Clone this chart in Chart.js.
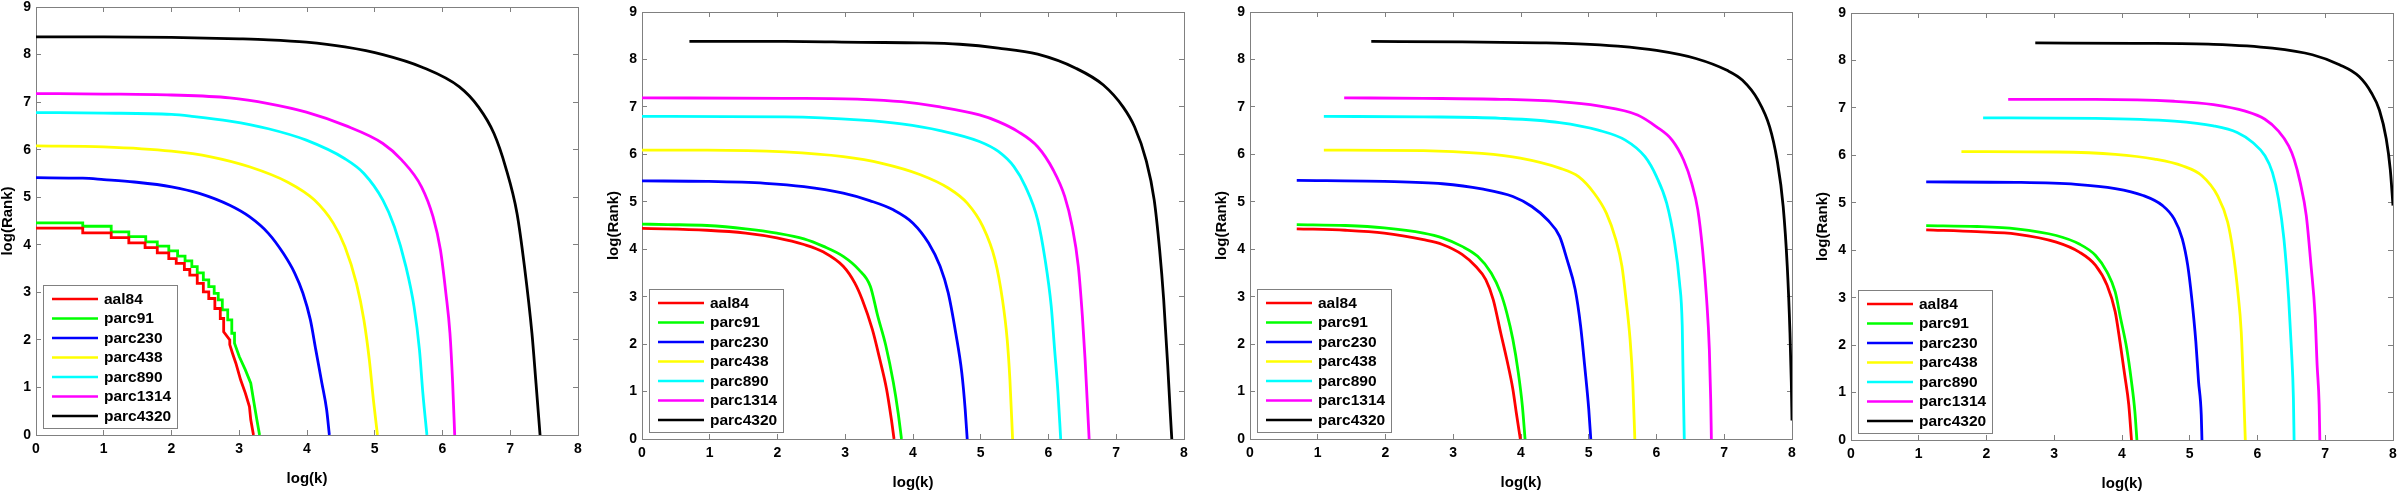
<!DOCTYPE html>
<html><head><meta charset="utf-8">
<script src="https://cdn.jsdelivr.net/npm/chart.js@4.4.1/dist/chart.umd.min.js"></script>
<style>
html,body{margin:0;padding:0;background:#fff;width:2398px;height:497px;overflow:hidden;position:relative;}
.wrap{position:absolute;}
canvas{display:block;}
</style></head><body>
<div class="wrap"><canvas id="k1"></canvas></div>
<div class="wrap"><canvas id="k2"></canvas></div>
<div class="wrap"><canvas id="k3"></canvas></div>
<div class="wrap"><canvas id="k4"></canvas></div>
<script>
// ---- categories / legend ----
const seriesLabels = ['aal84','parc91','parc230','parc438','parc890','parc1314','parc4320'];
const seriesColors = ['#ff0000','#00ff00','#0000ff','#ffff00','#00ffff','#ff00ff','#000000'];
const xTicks = [0,1,2,3,4,5,6,7,8];
const yTicks = [0,1,2,3,4,5,6,7,8,9];
const xTitle = 'log(k)';
const yTitle = 'log(Rank)';

// ---- panel 1 ----
const p1_aal84 = [[0,4.35],[0.69,4.35],[0.69,4.25],[1.11,4.25],[1.11,4.15],[1.37,4.15],[1.37,4.04],[1.61,4.04],[1.61,3.94],[1.79,3.94],[1.79,3.83],[1.96,3.83],[1.96,3.71],[2.07,3.71],[2.07,3.61],[2.19,3.61],[2.19,3.48],[2.27,3.48],[2.27,3.36],[2.38,3.36],[2.38,3.19],[2.47,3.19],[2.47,3.01],[2.55,3.01],[2.55,2.87],[2.64,2.87],[2.64,2.66],[2.72,2.66],[2.72,2.45],[2.77,2.45],[2.77,2.17],[2.86,2.0],[2.86,1.9],[2.90,1.72],[2.95,1.51],[3.02,1.16],[3.09,0.88],[3.15,0.60],[3.17,0.32],[3.21,0]];
const p1_parc91 = [[0,4.46],[0.69,4.46],[0.69,4.39],[1.11,4.39],[1.11,4.27],[1.37,4.27],[1.37,4.17],[1.62,4.17],[1.62,4.06],[1.79,4.06],[1.79,3.97],[1.96,3.97],[1.96,3.87],[2.09,3.87],[2.09,3.76],[2.20,3.76],[2.20,3.66],[2.30,3.66],[2.30,3.54],[2.38,3.54],[2.38,3.41],[2.47,3.41],[2.47,3.26],[2.55,3.26],[2.55,3.12],[2.63,3.12],[2.63,2.98],[2.69,2.98],[2.69,2.84],[2.75,2.84],[2.75,2.63],[2.83,2.63],[2.83,2.42],[2.89,2.42],[2.89,2.14],[2.93,2.14],[2.93,1.93],[3.0,1.65],[3.09,1.37],[3.17,1.09],[3.21,0.74],[3.26,0.32],[3.30,0]];
const p1_parc230 = [[0,5.41],[0.69,5.40],[1,5.37],[1.45,5.32],[2,5.22],[2.41,5.08],[2.86,4.83],[3.15,4.59],[3.43,4.24],[3.65,3.82],[3.82,3.40],[3.94,2.98],[4.05,2.42],[4.13,1.79],[4.22,1.09],[4.29,0.53],[4.33,0]];
const p1_parc438 = [[0,6.08],[1,6.06],[2,5.97],[2.58,5.85],[3.15,5.64],[3.71,5.32],[4.11,4.94],[4.39,4.45],[4.56,3.96],[4.73,3.19],[4.84,2.42],[4.92,1.58],[4.98,0.74],[5.04,0]];
const p1_parc890 = [[0,6.78],[1,6.77],[2,6.74],[2.30,6.70],[2.86,6.60],[3.43,6.44],[3.99,6.20],[4.56,5.81],[4.84,5.50],[5.12,4.94],[5.29,4.38],[5.46,3.54],[5.58,2.70],[5.66,1.79],[5.71,0.88],[5.77,0]];
const p1_parc1314 = [[0,7.18],[1,7.17],[2,7.15],[2.86,7.09],[3.43,6.97],[3.99,6.79],[4.56,6.51],[5.12,6.13],[5.40,5.78],[5.69,5.22],[5.86,4.59],[5.97,3.89],[6.05,2.98],[6.11,2.14],[6.15,1.09],[6.18,0]];
const p1_parc4320 = [[0,8.37],[1,8.37],[2,8.36],[3,8.33],[3.43,8.31],[3.99,8.26],[4.56,8.16],[5.12,8.0],[5.69,7.74],[6.25,7.32],[6.53,6.9],[6.76,6.34],[6.93,5.64],[7.10,4.66],[7.21,3.54],[7.32,2.14],[7.38,1.09],[7.44,0]];

// ---- panel 2 ----
const p2_aal84 = [[0,4.44],[0.96,4.40],[1.53,4.34],[1.99,4.24],[2.39,4.10],[2.68,3.94],[2.97,3.64],[3.14,3.29],[3.25,2.94],[3.40,2.31],[3.51,1.68],[3.61,1.05],[3.68,0.42],[3.72,0]];
const p2_parc91 = [[0,4.53],[0.38,4.52],[0.96,4.50],[1.53,4.43],[1.99,4.34],[2.39,4.22],[2.68,4.06],[2.97,3.85],[3.20,3.57],[3.37,3.22],[3.48,2.59],[3.60,1.96],[3.71,1.19],[3.78,0.56],[3.83,0]];
const p2_parc230 = [[0,5.44],[0.96,5.43],[1.82,5.39],[2.39,5.32],[2.97,5.18],[3.37,5.02],[3.71,4.83],[4.0,4.55],[4.23,4.13],[4.40,3.64],[4.52,3.08],[4.63,2.24],[4.72,1.40],[4.77,0.63],[4.80,0]];
const p2_parc438 = [[0,6.09],[0.96,6.09],[2.11,6.05],[2.97,5.95],[3.54,5.81],[4.11,5.57],[4.52,5.29],[4.80,4.97],[5.03,4.48],[5.21,3.78],[5.32,2.94],[5.39,2.10],[5.43,1.26],[5.47,0]];
const p2_parc890 = [[0,6.80],[2.11,6.79],[3.25,6.72],[3.83,6.64],[4.40,6.50],[4.98,6.27],[5.26,6.06],[5.49,5.74],[5.66,5.32],[5.84,4.62],[5.95,3.78],[6.04,2.80],[6.09,1.89],[6.14,0.98],[6.18,0]];
const p2_parc1314 = [[0,7.19],[2.11,7.18],[3.25,7.16],[3.83,7.11],[4.40,7.00],[4.98,6.83],[5.26,6.69],[5.55,6.48],[5.84,6.16],[6.07,5.67],[6.24,5.11],[6.35,4.48],[6.44,3.64],[6.50,2.59],[6.54,1.68],[6.57,0.84],[6.60,0]];
const p2_parc4320 = [[0.70,8.38],[2.11,8.38],[3.25,8.36],[4.11,8.35],[4.69,8.32],[5.26,8.24],[5.84,8.11],[6.41,7.81],[6.81,7.46],[7.10,7.00],[7.27,6.58],[7.44,5.88],[7.56,5.04],[7.64,3.99],[7.70,2.94],[7.76,1.54],[7.80,0.49],[7.82,0]];

// ---- panel 3 ----
const p3_aal84 = [[0.69,4.43],[1.41,4.40],[1.98,4.34],[2.56,4.20],[2.84,4.10],[3.13,3.89],[3.33,3.64],[3.48,3.36],[3.59,2.94],[3.70,2.24],[3.79,1.68],[3.88,1.05],[3.93,0.56],[3.99,0]];
const p3_parc91 = [[0.69,4.52],[1.41,4.50],[1.98,4.45],[2.56,4.34],[2.84,4.24],[3.13,4.06],[3.36,3.85],[3.56,3.50],[3.70,3.08],[3.79,2.66],[3.88,2.10],[3.96,1.40],[4.02,0.70],[4.06,0]];
const p3_parc230 = [[0.69,5.45],[1.98,5.43],[2.84,5.38],[3.42,5.27],[3.88,5.11],[4.16,4.90],[4.39,4.62],[4.57,4.27],[4.68,3.78],[4.80,3.15],[4.88,2.38],[4.94,1.54],[5.00,0.63],[5.03,0]];
const p3_parc438 = [[1.09,6.09],[2.56,6.08],[3.42,6.02],[3.99,5.92],[4.57,5.71],[4.85,5.53],[5.08,5.18],[5.26,4.76],[5.40,4.20],[5.49,3.64],[5.55,2.94],[5.61,2.10],[5.65,1.19],[5.68,0]];
const p3_parc890 = [[1.09,6.80],[2.56,6.79],[3.70,6.76],[4.57,6.67],[5.14,6.51],[5.54,6.30],[5.83,5.95],[6.00,5.53],[6.15,4.97],[6.26,4.20],[6.34,3.29],[6.38,2.38],[6.39,1.54],[6.41,0]];
const p3_parc1314 = [[1.39,7.19],[2.56,7.18],[3.70,7.16],[4.57,7.11],[5.14,7.02],[5.72,6.83],[6.00,6.58],[6.23,6.30],[6.40,5.88],[6.52,5.39],[6.61,4.83],[6.68,3.99],[6.74,2.94],[6.78,1.89],[6.80,0.84],[6.81,0]];
const p3_parc4320 = [[1.79,8.38],[3.13,8.37],[4.28,8.35],[4.85,8.33],[5.43,8.28],[6.00,8.19],[6.58,8.02],[7.04,7.77],[7.27,7.56],[7.50,7.14],[7.67,6.58],[7.78,5.88],[7.87,4.90],[7.93,3.64],[7.97,2.24],[7.99,1.19],[8.0,0.39]];

// ---- panel 4 ----
const p4_aal84 = [[1.11,4.43],[1.86,4.39],[2.44,4.34],[3.03,4.17],[3.37,3.96],[3.61,3.68],[3.78,3.26],[3.90,2.70],[3.97,2.07],[4.04,1.37],[4.10,0.74],[4.14,0]];
const p4_parc91 = [[1.11,4.52],[1.86,4.50],[2.44,4.45],[3.03,4.31],[3.37,4.13],[3.61,3.89],[3.78,3.54],[3.90,3.12],[3.98,2.56],[4.07,1.93],[4.14,1.23],[4.19,0.60],[4.22,0]];
const p4_parc230 = [[1.11,5.44],[2.44,5.43],[3.32,5.39],[3.90,5.30],[4.30,5.16],[4.60,4.94],[4.77,4.66],[4.89,4.24],[4.97,3.68],[5.03,2.98],[5.09,2.07],[5.13,1.23],[5.17,0.53],[5.18,0]];
const p4_parc438 = [[1.63,6.08],[3.03,6.07],[3.90,6.02],[4.48,5.92],[4.89,5.78],[5.18,5.57],[5.41,5.15],[5.56,4.59],[5.64,3.96],[5.71,3.12],[5.76,2.28],[5.79,1.23],[5.82,0]];
const p4_parc890 = [[1.95,6.79],[3.61,6.78],[4.77,6.72],[5.35,6.62],[5.70,6.48],[5.93,6.27],[6.11,5.99],[6.22,5.64],[6.31,5.08],[6.39,4.24],[6.46,2.98],[6.50,1.93],[6.53,0.88],[6.54,0]];
const p4_parc1314 = [[2.32,7.18],[3.61,7.18],[4.77,7.14],[5.35,7.07],[5.82,6.93],[6.11,6.76],[6.31,6.51],[6.46,6.20],[6.54,5.92],[6.63,5.43],[6.72,4.73],[6.79,3.68],[6.85,2.63],[6.88,1.58],[6.91,0.74],[6.92,0]];
const p4_parc4320 = [[2.72,8.37],[4.19,8.36],[5.35,8.34],[6.22,8.26],[6.81,8.12],[7.21,7.91],[7.50,7.66],[7.68,7.32],[7.80,6.95],[7.90,6.35],[7.96,5.70],[8.0,4.94]];

// ---- layout (pixel boxes of each plot area) ----
const panels = [
  {id:'k1', L:36,   R:578,  T:7,  B:435, series:[p1_aal84,p1_parc91,p1_parc230,p1_parc438,p1_parc890,p1_parc1314,p1_parc4320]},
  {id:'k2', L:642,  R:1184, T:12, B:439, series:[p2_aal84,p2_parc91,p2_parc230,p2_parc438,p2_parc890,p2_parc1314,p2_parc4320]},
  {id:'k3', L:1250, R:1792, T:12, B:439, series:[p3_aal84,p3_parc91,p3_parc230,p3_parc438,p3_parc890,p3_parc1314,p3_parc4320]},
  {id:'k4', L:1851, R:2393, T:13, B:440, series:[p4_aal84,p4_parc91,p4_parc230,p4_parc438,p4_parc890,p4_parc1314,p4_parc4320]}
];

const FONT = '"Liberation Sans", Arial, Helvetica, sans-serif';
Chart.defaults.font.family = FONT;
Chart.defaults.color = '#000';

const YAXW = 45, PADR = 15, OFFT = 20, H = 497;
const AXC = '#808080';

const boxLegend = {
  id: 'boxLegend',
  afterDraw(chart) {
    const {ctx, chartArea: a} = chart;
    const bw = 134, bh = 143;
    const bx = Math.round(a.left + 7), by = Math.round(a.bottom - 7 - bh);
    ctx.save();
    ctx.fillStyle = '#fff';
    ctx.fillRect(bx, by, bw, bh);
    ctx.strokeStyle = AXC; ctx.lineWidth = 1;
    ctx.strokeRect(bx + 0.5, by + 0.5, bw, bh);
    ctx.font = 'bold 15.5px ' + FONT;
    ctx.textBaseline = 'middle';
    chart.data.datasets.forEach((ds, i) => {
      const yy = by + 14 + i * 19.5;
      ctx.strokeStyle = ds.borderColor; ctx.lineWidth = 2.5;
      ctx.beginPath(); ctx.moveTo(bx + 9, yy); ctx.lineTo(bx + 55, yy); ctx.stroke();
      ctx.fillStyle = '#000';
      ctx.fillText(ds.label, bx + 61, yy + 0.5);
    });
    ctx.restore();
  }
};

function strictlyIncreasing(arr) {
  for (let i = 1; i < arr.length; i++) if (arr[i][0] <= arr[i-1][0]) return false;
  return true;
}

panels.forEach(p => {
  const cv = document.getElementById(p.id);
  const wrap = cv.parentNode;
  const w = (p.R - p.L) + YAXW + PADR, h = H + OFFT;
  wrap.style.left = (p.L - YAXW) + 'px';
  wrap.style.top = (-OFFT) + 'px';
  cv.width = w; cv.height = h;
  cv.style.width = w + 'px'; cv.style.height = h + 'px';
  const xAxisH = H - p.B;
  const xTitlePadB = H - 9 - (p.B + 44);
  const tickGrid = {drawOnChartArea:false, drawTicks:true, tickLength:-5, color:AXC, lineWidth:1};
  const border = {display:true, color:AXC, width:1};
  new Chart(cv, {
    type: 'scatter',
    data: {
      datasets: seriesLabels.map((lab, i) => {
        const smooth = strictlyIncreasing(p.series[i]);
        return {
          label: lab,
          data: p.series[i].map(([x, y]) => ({x, y})),
          showLine: true,
          borderColor: seriesColors[i],
          backgroundColor: seriesColors[i],
          borderWidth: 2.8,
          pointRadius: 0,
          pointHoverRadius: 0,
          tension: smooth ? 0.4 : 0,
          cubicInterpolationMode: smooth ? 'monotone' : 'default',
          fill: false
        };
      })
    },
    options: {
      responsive: false,
      animation: false,
      devicePixelRatio: 1,
      layout: {padding: {left:0, right:PADR, top:p.T + OFFT, bottom:0}},
      plugins: {legend:{display:false}, tooltip:{enabled:false}},
      events: [],
      scales: {
        x: {
          type:'linear', position:'bottom', min:xTicks[0], max:xTicks[xTicks.length-1],
          afterBuildTicks: s => { s.ticks = xTicks.map(v => ({value:v})); },
          ticks: {padding:11, color:'#000', font:{size:14, weight:'bold'}, maxRotation:0, autoSkip:false},
          grid: tickGrid, border: border,
          title: {display:true, text:xTitle, color:'#000', font:{size:15, weight:'bold'}, padding:{top:0, bottom:xTitlePadB}},
          afterFit: s => { s.height = xAxisH; }
        },
        y: {
          type:'linear', position:'left', min:yTicks[0], max:yTicks[yTicks.length-1],
          afterBuildTicks: s => { s.ticks = yTicks.map(v => ({value:v})); },
          ticks: {padding:10, color:'#000', font:{size:14, weight:'bold'}, autoSkip:false},
          grid: tickGrid, border: border,
          title: {display:true, text:yTitle, color:'#000', font:{size:15, weight:'bold'}, padding:{top:8, bottom:0}},
          afterFit: s => { s.width = YAXW; }
        },
        x2: {
          type:'linear', position:'top', min:xTicks[0], max:xTicks[xTicks.length-1],
          afterBuildTicks: s => { s.ticks = xTicks.map(v => ({value:v})); },
          ticks: {display:false},
          grid: tickGrid, border: border,
          afterFit: s => { s.height = 0; }
        },
        y2: {
          type:'linear', position:'right', min:yTicks[0], max:yTicks[yTicks.length-1],
          afterBuildTicks: s => { s.ticks = yTicks.map(v => ({value:v})); },
          ticks: {display:false},
          grid: tickGrid, border: border,
          afterFit: s => { s.width = 0; }
        }
      }
    },
    plugins: [boxLegend]
  });
});
</script>
</body></html>
